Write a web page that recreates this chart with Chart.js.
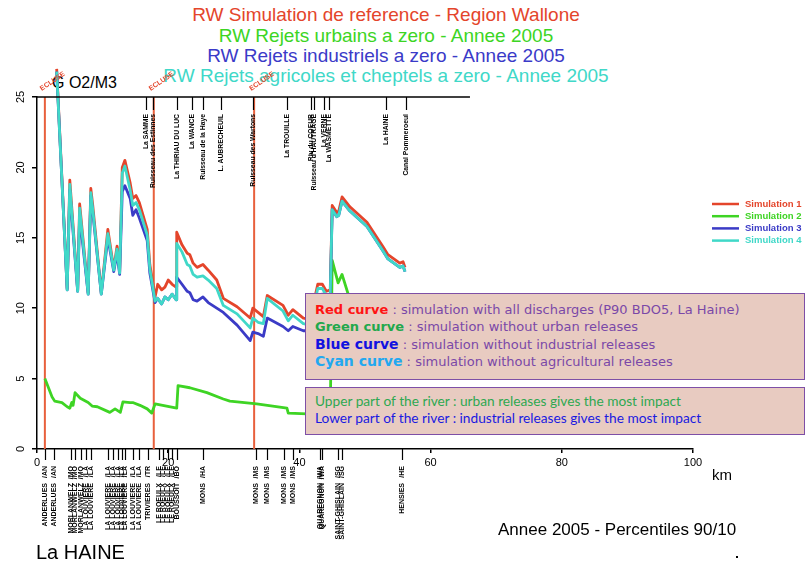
<!DOCTYPE html>
<html>
<head>
<meta charset="utf-8">
<script src="https://cdn.jsdelivr.net/npm/chart.js@4/dist/chart.umd.min.js"></script>
<style>
  html, body { margin: 0; padding: 0; background: #fff; }
  #wrap { position: relative; width: 807px; height: 566px; overflow: hidden; font-family: "Liberation Sans", Arial, sans-serif; }
  .title { position: absolute; left: 0; width: 772px; text-align: center; font-size: 19px; line-height: 20px; white-space: nowrap; }
  canvas { position: absolute; left: 0; top: 0; }
  .plain { position: absolute; white-space: nowrap; color: #000; }
  .note { position: absolute; left: 305px; width: 497px; background: #e8cbc1; border: 1.5px solid #7e4fa6; white-space: nowrap; }
  .n1 { top: 293px; height: 87px; padding: 7px 0 0 9px; box-sizing: border-box; width: 500px; font-family: "DejaVu Sans", Verdana, sans-serif; font-size: 13px; line-height: 17.4px; color: #7a48a8; }
  .n2 { top: 387px; height: 48px; padding: 4px 0 0 9px; box-sizing: border-box; width: 500px; font-family: Lato, sans-serif; font-size: 13.7px; line-height: 17px; }
  .n1 b { font-weight: bold; }
</style>
</head>
<body>
<div id="wrap">
  <div class="title" style="top:5px;color:#e4452b">RW Simulation de reference - Region Wallone</div>
  <div class="title" style="top:26px;color:#3cd523">RW Rejets urbains a zero - Annee 2005</div>
  <div class="title" style="top:46px;color:#3a3ac8">RW Rejets industriels a zero - Annee 2005</div>
  <div class="title" style="top:66px;color:#40d8c8">RW Rejets agricoles et cheptels a zero - Annee 2005</div>
  <div class="plain" style="left:52px;top:74px;font-size:16px;">G O2/M3</div>
  <canvas id="c" width="807" height="566"></canvas>
  <div class="note n1">
    <div><b style="color:#ff1414">Red curve</b> : simulation with all discharges (P90 BDO5, La Haine)</div>
    <div><b style="color:#22a84c">Green curve</b> : simulation without urban releases</div>
    <div><b style="color:#1212e0;font-size:14px">Blue curve</b> : simulation without industrial releases</div>
    <div><b style="color:#22a8f0;font-size:14px">Cyan curve</b> : simulation without agricultural releases</div>
  </div>
  <div class="note n2">
    <div style="color:#2ea850">Upper part of the river : urban releases gives the most impact</div>
    <div style="color:#1a1ae0">Lower part of the river : industrial releases gives the most impact</div>
  </div>
  <div class="plain" style="left:712px;top:466px;font-size:15px;">km</div>
  <div class="plain" style="left:36px;top:541px;font-size:20px;">La HAINE</div>
  <div class="plain" style="left:498px;top:520px;font-size:17px;">Annee 2005 - Percentiles 90/10</div>
  <div class="plain" style="left:736px;top:556px;width:2px;height:2px;background:#000;"></div>
</div>
<script>
// Distance along the river (km) for the reference, industrial and agricultural runs
const simKm = [3.0, 4.6, 5.0, 6.2, 6.5, 7.8, 8.2, 8.5, 9.8, 10.8,
  11.7, 12.2, 12.6, 13.0, 13.4, 14.2, 14.6, 15.1, 15.6, 16.8,
  17.2, 18.0, 18.4, 19.0, 19.5, 20.0, 20.6, 21.2, 21.3, 22.1,
  22.9, 23.3, 23.8, 24.4, 25.3, 26.1, 27.4, 28.4, 30.5, 32.5,
  32.9, 33.7, 34.5, 35.1, 37.5, 38.3, 39.0, 40.6, 41.6, 42.8,
  43.5, 44.1, 44.7, 45.0, 45.7, 46.0, 46.5, 47.7, 50.3, 52.7,
  53.5, 55.3, 55.8, 56.1];

// Simulation 1: all discharges
const sim1 = [27.0, 11.4, 19.1, 11.3, 17.4, 11.1, 18.5, 17.3, 11.1, 15.6,
  12.8, 14.4, 12.6, 20.0, 20.5, 18.9, 17.8, 18.0, 17.5, 15.6,
  13.1, 10.8, 11.7, 11.3, 11.5, 12.0, 11.7, 11.5, 15.4, 14.5,
  13.9, 13.8, 13.2, 12.9, 13.1, 12.7, 12.0, 10.7, 10.1, 9.3,
  10.0, 9.7, 9.4, 10.9, 10.2, 9.5, 9.9, 9.3, 9.2, 11.7,
  11.7, 11.2, 11.3, 17.3, 16.8, 16.9, 17.9, 17.2, 16.1, 14.4,
  13.8, 13.2, 13.3, 12.9];

// Simulation 3: industrial releases set to zero
const sim3 = [26.8, 11.3, 18.4, 11.2, 16.6, 11.0, 18.0, 16.8, 11.0, 15.0,
  12.6, 13.9, 12.4, 18.3, 18.7, 17.8, 16.6, 17.0, 16.4, 14.8,
  12.5, 10.4, 10.7, 10.3, 10.8, 10.6, 11.0, 10.6, 12.2, 11.7,
  11.2, 11.1, 10.6, 10.5, 10.8, 10.4, 10.0, 9.7, 8.8, 7.7,
  8.3, 8.2, 8.0, 9.3, 8.7, 8.4, 8.7, 8.4, 8.4, 10.9,
  11.0, 10.6, 10.8, 17.0, 16.5, 16.6, 17.6, 16.9, 15.8, 14.1,
  13.5, 12.9, 13.0, 12.6];

// Simulation 4: agricultural and livestock releases set to zero
const sim4 = [26.8, 11.3, 18.8, 11.2, 17.1, 11.0, 18.2, 17.0, 11.0, 15.3,
  12.7, 14.2, 12.5, 19.6, 20.1, 18.4, 17.3, 17.5, 17.0, 15.2,
  12.8, 10.5, 10.7, 10.3, 10.8, 10.6, 11.0, 10.6, 14.6, 14.0,
  13.1, 13.0, 12.4, 12.2, 12.3, 12.0, 11.4, 10.2, 9.6, 8.6,
  9.3, 9.0, 8.9, 10.7, 9.8, 9.1, 9.5, 8.9, 8.8, 11.4,
  11.4, 10.9, 11.0, 17.0, 16.5, 16.6, 17.6, 16.9, 15.8, 14.1,
  13.5, 12.9, 13.0, 12.6];

// Simulation 2: urban releases set to zero (own km grid)
const sim2Km = [1.2, 2.3, 2.7, 3.8, 4.6, 5.0, 5.3, 5.5, 5.8, 6.6,
  7.8, 8.4, 9.2, 11.1, 11.9, 12.7, 13.1, 14.2, 14.6, 15.7,
  16.8, 17.5, 18.0, 21.3, 21.5, 23.3, 25.9, 28.4, 29.4, 33.5,
  38.1, 38.3, 41.2, 44.7, 45.0, 45.9, 46.5, 47.7, 50.5, 53.0,
  56.1];
const sim2 = [5.0, 3.7, 3.4, 3.3, 3.0, 2.9, 3.3, 3.1, 4.0, 3.6,
  3.3, 3.05, 3.0, 2.6, 2.85, 2.6, 3.35, 3.3, 3.3, 3.1,
  2.85, 2.55, 3.2, 2.9, 4.5, 4.35, 4.0, 3.55, 3.4, 3.2,
  2.9, 2.55, 2.5, 2.4, 13.4, 11.8, 12.4, 10.6, 9.0, 8.0,
  7.2];

const seriesNames = ['Simulation 1', 'Simulation 2', 'Simulation 3', 'Simulation 4'];
const seriesColors = ['#e4452b', '#3ed424', '#3b3bc6', '#40d8c8'];

const yTickValues = [0, 5, 10, 15, 20, 25];

// Weirs / locks on the river
const damKm = [1.2, 17.8, 33.1];
const damLabel = 'ECLUSE';

// Tributaries joining the river (top axis)
const tributaryKm = [16.6, 17.7, 21.3, 23.6, 25.3, 28.0, 32.9, 38.1, 41.8, 42.2, 43.75, 44.5, 53.2, 56.25];
const tributaryNames = ['La SAMME', 'Ruisseau des Estinnes', 'La THIRIAU DU LUC', 'La WANCE',
  'Ruisseau de la Haye', 'L. AUBRECHEUIL', 'Ruisseau des Wartons', 'La TROUILLE',
  'Riv du COEUR', "Ruisseau d'HAUTRAGE", 'La VERNE', 'La WASMETTE', 'La HAINE', 'Canal Pommeroeul'];
const topLineEndKm = 66;

// Discharge points (bottom axis)
const stationKm = [1.2, 2.6, 5.2, 5.8, 6.7, 7.5, 8.2, 10.8, 11.6, 12.3,
  13.0, 13.4, 14.6, 15.5, 16.9, 18.6, 19.2, 20.0, 20.6, 21.3,
  25.3, 33.4, 35.1, 37.7, 39.0, 43.1, 43.4, 45.9, 46.5, 55.6];
const stationCodes = ['/AN', '/AN', '/MO', '/MO', '/MO', '/LA', '/LA', '/LA', '/LA', '/LA',
  '/LA', '/LA', '/LA', '/LA', '/TR', '/LE', '/LE', '/LE', '/LE', '/BO',
  '/HA', '/MS', '/MS', '/MS', '/MS', '/WA', '/WA', '/SG', '/SG', '/HE'];
const stationNames = ['ANDERLUES', 'ANDERLUES', 'MORLANWELZ', 'MORLANWELZ', 'MORLANWELZ',
  'LA LOUVIERE', 'LA LOUVIERE', 'LA LOUVIERE', 'LA LOUVIERE', 'LA LOUVIERE',
  'LA LOUVIERE', 'LA LOUVIERE', 'LA LOUVIERE', 'LA LOUVIERE', 'TRIVIERES',
  'LE ROEULX', 'LE ROEULX', 'LE ROEULX', 'LE ROEULX', 'BOUSSOIT',
  'MONS', 'MONS', 'MONS', 'MONS', 'MONS',
  'QUAREGNON', 'QUAREGNON', 'SAINT-GHISLAIN', 'SAINT-GHISLAIN', 'HENSIES'];

const pts = (xs, ys) => xs.map((x, i) => ({ x: x, y: ys[i] }));

const riverOverlay = {
  id: 'riverOverlay',
  beforeDatasetsDraw(chart) {
    const { ctx, scales: { x }, chartArea } = chart;
    ctx.save();
    ctx.strokeStyle = '#e8603c';
    ctx.lineWidth = 2;
    damKm.forEach(k => {
      const px = x.getPixelForValue(k);
      ctx.beginPath();
      ctx.moveTo(px, chartArea.top);
      ctx.lineTo(px, chartArea.bottom);
      ctx.stroke();
    });
    ctx.restore();
  },
  afterDraw(chart) {
    const { ctx, scales: { x, y }, chartArea } = chart;
    const top = y.getPixelForValue(25);
    const bottom = chartArea.bottom;
    ctx.save();

    // y tick labels, rotated
    ctx.fillStyle = '#000';
    ctx.font = '11px "Liberation Sans", Arial, sans-serif';
    ctx.textAlign = 'center';
    ctx.textBaseline = 'middle';
    yTickValues.forEach(v => {
      ctx.save();
      ctx.translate(chartArea.left - 16, y.getPixelForValue(v));
      ctx.rotate(-Math.PI / 2);
      ctx.fillText(String(v), 0, 0);
      ctx.restore();
    });

    // top river line with tributaries
    ctx.strokeStyle = '#000';
    ctx.lineWidth = 1.5;
    ctx.beginPath();
    ctx.moveTo(x.getPixelForValue(0), top);
    ctx.lineTo(x.getPixelForValue(topLineEndKm), top);
    ctx.stroke();
    ctx.font = 'bold 6.8px "Liberation Sans", Arial, sans-serif';
    ctx.textAlign = 'right';
    ctx.textBaseline = 'middle';
    tributaryKm.forEach((k, i) => {
      const px = Math.round(x.getPixelForValue(k)) + 0.5;
      ctx.lineWidth = 1.2;
      ctx.beginPath();
      ctx.moveTo(px, top);
      ctx.lineTo(px, top + 13);
      ctx.stroke();
      ctx.save();
      ctx.translate(px, top + 17);
      ctx.rotate(-Math.PI / 2);
      ctx.fillText(tributaryNames[i], 0, 0);
      ctx.restore();
    });

    // discharge points under the axis
    ctx.font = 'bold 7px "Liberation Sans", Arial, sans-serif';
    stationKm.forEach((k, i) => {
      const px = Math.round(x.getPixelForValue(k)) + 0.5;
      ctx.lineWidth = 1.2;
      ctx.beginPath();
      ctx.moveTo(px, bottom);
      ctx.lineTo(px, bottom + 11);
      ctx.stroke();
      ctx.save();
      ctx.translate(px, bottom + 17);
      ctx.rotate(-Math.PI / 2);
      ctx.fillText(stationCodes[i], 0, 0);
      ctx.restore();
      ctx.save();
      ctx.translate(px, bottom + 34);
      ctx.rotate(-Math.PI / 2);
      ctx.fillText(stationNames[i], 0, 0);
      ctx.restore();
    });

    // lock tags
    ctx.fillStyle = '#e4452b';
    ctx.font = 'bold 7px "Liberation Sans", Arial, sans-serif';
    ctx.textAlign = 'left';
    ctx.textBaseline = 'alphabetic';
    damKm.forEach(k => {
      ctx.save();
      ctx.translate(x.getPixelForValue(k) - 3, top - 6);
      ctx.rotate(-0.6);
      ctx.fillText(damLabel, 0, 0);
      ctx.restore();
    });

    // legend
    ctx.font = 'bold 9.5px "Liberation Sans", Arial, sans-serif';
    ctx.textBaseline = 'middle';
    seriesNames.forEach((name, i) => {
      const ly = chartArea.top + 107 + i * 12.2;
      const lx = chartArea.right + 19;
      ctx.strokeStyle = seriesColors[i];
      ctx.lineWidth = 2.5;
      ctx.beginPath();
      ctx.moveTo(lx, ly);
      ctx.lineTo(lx + 27, ly);
      ctx.stroke();
      ctx.fillStyle = seriesColors[i];
      ctx.fillText(name, lx + 33, ly);
    });
    ctx.restore();
  }
};

new Chart(document.getElementById('c'), {
  type: 'line',
  data: {
    datasets: [
      { label: seriesNames[0], data: pts(simKm, sim1), borderColor: seriesColors[0], order: 3 },
      { label: seriesNames[1], data: pts(sim2Km, sim2), borderColor: seriesColors[1], order: 4 },
      { label: seriesNames[2], data: pts(simKm, sim3), borderColor: seriesColors[2], order: 2 },
      { label: seriesNames[3], data: pts(simKm, sim4), borderColor: seriesColors[3], order: 1 }
    ]
  },
  options: {
    responsive: false,
    animation: false,
    layout: { padding: { left: 0, top: 97, right: 114, bottom: 87 } },
    elements: {
      point: { radius: 0 },
      line: { borderWidth: 2.8, tension: 0, fill: false, borderJoinStyle: 'round' }
    },
    datasets: { line: { clip: false } },
    plugins: { legend: { display: false }, tooltip: { enabled: false }, title: { display: false } },
    scales: {
      x: {
        type: 'linear', min: 0, max: 100,
        afterFit: s => { s.height = 30; },
        ticks: { stepSize: 20, color: '#000', padding: 3, maxRotation: 0,
          font: { family: '"Liberation Sans", Arial, sans-serif', size: 11 } },
        grid: { display: true, drawOnChartArea: false, drawTicks: true, tickLength: 4, color: '#000', lineWidth: 1.5 },
        border: { display: true, color: '#000', width: 1.5 }
      },
      y: {
        type: 'linear', min: 0, max: 25,
        afterFit: s => { s.width = 37; },
        ticks: { stepSize: 5, display: false },
        grid: { display: true, drawOnChartArea: false, drawTicks: true, tickLength: 5, color: '#000', lineWidth: 1.5 },
        border: { display: true, color: '#000', width: 1.5 }
      }
    }
  },
  plugins: [riverOverlay]
});
</script>
</body>
</html>
